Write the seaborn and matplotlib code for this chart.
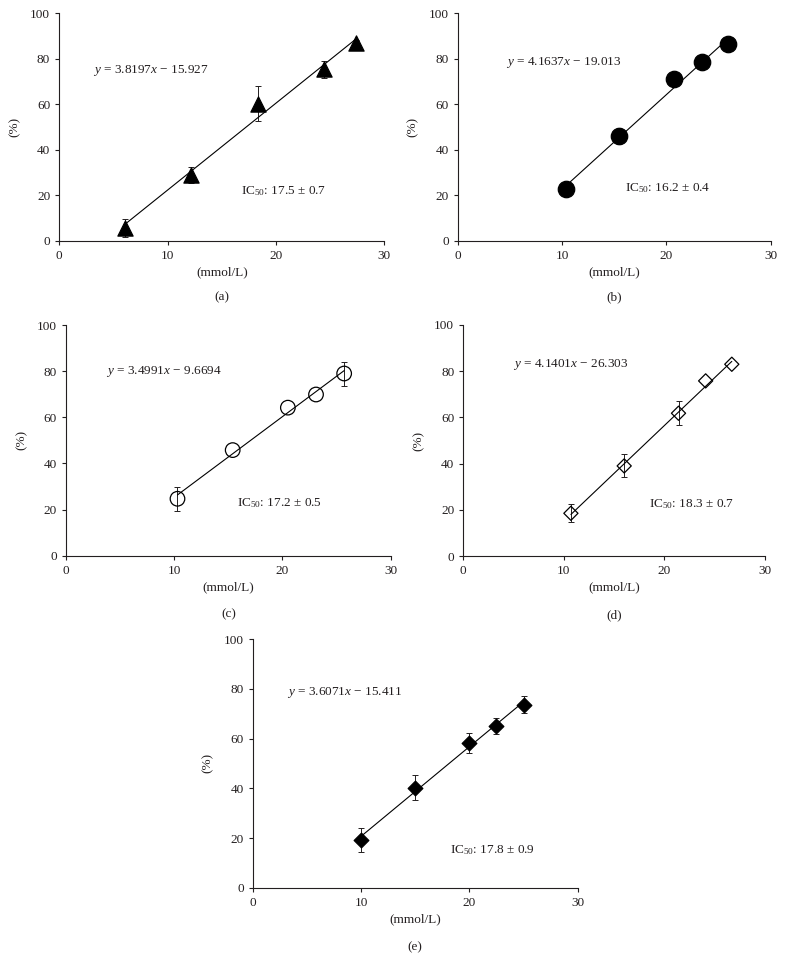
import matplotlib
matplotlib.use("Agg")
import matplotlib.pyplot as plt
import seaborn as sns

# values (0 = no visible error bar)
a_x = [6.1, 12.2, 18.3, 24.4, 27.4]
a_y = [5.6, 28.9, 60.2, 75.4, 86.8]
a_err = [4.0, 3.5, 7.7, 3.8, 1.5]

b_x = [10.4, 15.5, 20.7, 23.4, 25.9]
b_y = [22.6, 46.0, 71.0, 78.6, 86.4]
b_err = [2.0, 3.5, 1.5, 1.5, 1.0]

c_x = [10.3, 15.4, 20.5, 23.1, 25.7]
c_y = [24.7, 45.8, 64.2, 69.9, 79.0]
c_err = [5.2, 0, 0, 0, 5.2]

d_x = [10.7, 16.0, 21.4, 24.1, 26.7]
d_y = [18.5, 39.0, 61.8, 75.8, 83.0]
d_err = [3.9, 5.0, 5.2, 0, 0]

e_x = [10.0, 15.0, 20.0, 22.5, 25.0]
e_y = [19.2, 40.3, 58.3, 65.0, 73.7]
e_err = [5.0, 4.9, 4.0, 3.1, 3.3]

slopes = [3.8197, 4.1637, 3.4991, 4.1401, 3.6071]
intercepts = [-15.927, -19.013, -9.6694, -26.303, -15.411]
equations = ["3.8197", "4.1637", "3.4991", "4.1401", "3.6071"]
eq_consts = ["15.927", "19.013", "9.6694", "26.303", "15.411"]
ic50 = ["17.5 ± 0.7", "16.2 ± 0.4", "17.2 ± 0.5", "18.3 ± 0.7", "17.8 ± 0.9"]
panel_letters = ["(a)", "(b)", "(c)", "(d)", "(e)"]

sns.set_style("ticks")
plt.rcParams["font.family"] = ["Liberation Serif", "DejaVu Serif"]
plt.rcParams["mathtext.fontset"] = "custom"
plt.rcParams["mathtext.rm"] = "Liberation Serif"
plt.rcParams["mathtext.it"] = "Liberation Serif:italic"
fs = 9.5
ink = "#231f20"

fig = plt.figure(figsize=(7.85, 9.75), dpi=100)

# axes boxes [left, bottom, width, height] in figure fraction
boxes = [
    [0.0755, 0.7531, 0.414, 0.2333],
    [0.583, 0.7531, 0.399, 0.2333],
    [0.0841, 0.430, 0.4136, 0.2366],
    [0.5902, 0.4297, 0.3843, 0.237],
    [0.3219, 0.0895, 0.414, 0.255],
]

series = [(a_x, a_y, a_err), (b_x, b_y, b_err), (c_x, c_y, c_err),
          (d_x, d_y, d_err), (e_x, e_y, e_err)]

# marker, size, face
styles = [("^", 120, "black"), ("o", 140, "black"), ("o", 110, "none"),
          ("D", 52, "none"), ("D", 56, "black")]

# text anchors (data coords): equation, IC50
eq_pos = [(3.1, 75), (4.6, 78.3), (3.7, 80), (4.9, 82.7), (3.2, 78.4)]
ic_pos = [(16.8, 22), (16.0, 23), (15.8, 22.7), (18.5, 22.5), (18.2, 15.1)]
letter_y = [-0.25, -0.25, -0.255, -0.255, -0.24]

for i, box in enumerate(boxes):
    ax = fig.add_axes(box)
    xs, ys, errs = series[i]
    marker, size, face = styles[i]

    lx = [min(xs), max(xs)]
    ly = [slopes[i] * v + intercepts[i] for v in lx]
    sns.lineplot(x=lx, y=ly, color="black", linewidth=0.8, ax=ax, zorder=2)

    ex = [x for x, e in zip(xs, errs) if e > 0]
    ey = [y for y, e in zip(ys, errs) if e > 0]
    ee = [e for e in errs if e > 0]
    ax.errorbar(ex, ey, yerr=ee, fmt="none", ecolor=ink, elinewidth=0.7,
                capsize=2.5, capthick=0.7, zorder=1)
    sns.scatterplot(x=xs, y=ys, marker=marker, s=size, facecolor=face,
                    edgecolor="black", linewidth=0.9, ax=ax, zorder=3)

    ax.set_xlim(0, 30)
    ax.set_ylim(0, 100)
    ax.set_xticks([0, 10, 20, 30])
    ax.set_yticks([0, 20, 40, 60, 80, 100])
    ax.tick_params(colors=ink, labelsize=fs, length=3, width=0.8)
    for side in ["left", "bottom"]:
        ax.spines[side].set_color(ink)
        ax.spines[side].set_linewidth(0.8)
    sns.despine(ax=ax)

    ax.set_xlabel("(mmol/L)", color=ink, fontsize=fs, labelpad=3)
    ax.set_ylabel("(%)", color=ink, fontsize=fs, labelpad=7)

    ax.text(eq_pos[i][0], eq_pos[i][1],
            r"$y$ = " + equations[i] + r"$x$ − " + eq_consts[i],
            color=ink, fontsize=fs, va="center", ha="left")
    ax.text(ic_pos[i][0], ic_pos[i][1], r"IC$_{50}$: " + ic50[i],
            color=ink, fontsize=fs, va="center", ha="left")
    ax.text(0.5, letter_y[i], panel_letters[i], transform=ax.transAxes,
            color=ink, fontsize=fs, ha="center", va="center")

fig.savefig("out.png", dpi=100)
